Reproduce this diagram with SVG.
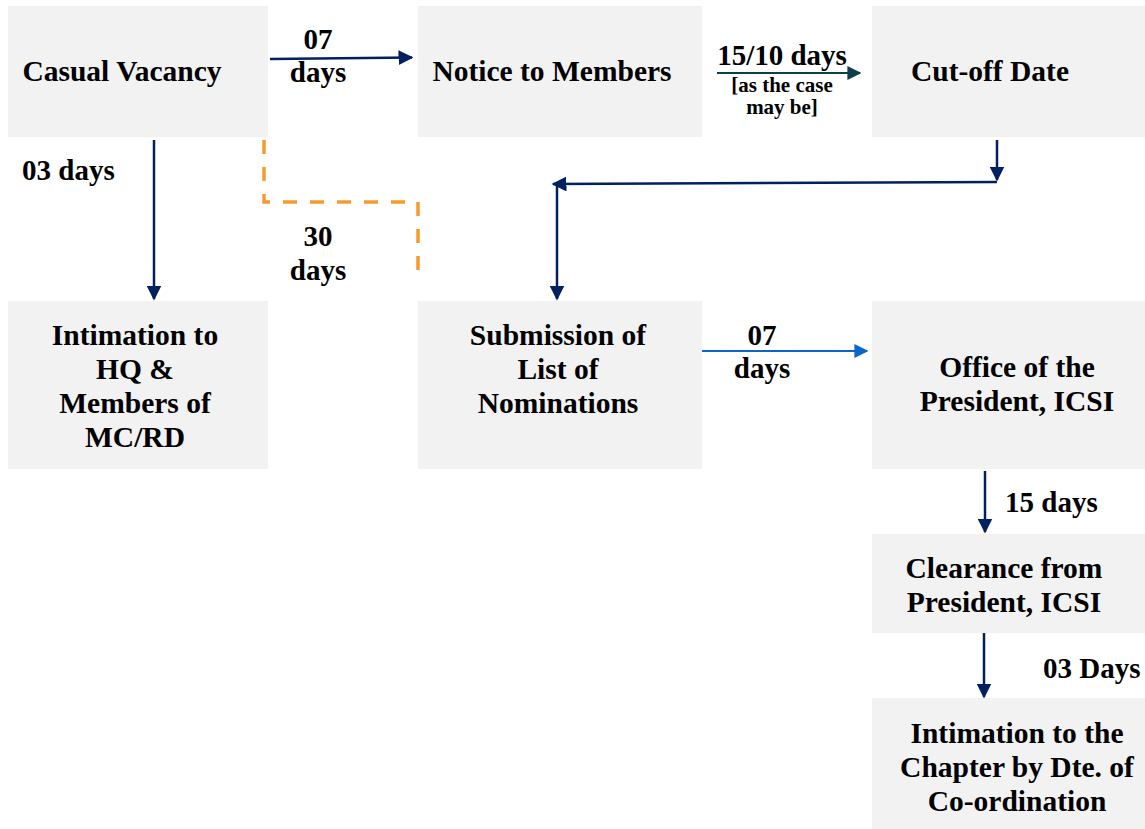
<svg xmlns="http://www.w3.org/2000/svg" width="1145" height="829" viewBox="0 0 1145 829">
<style>
.box{fill:#f2f2f2}
.t{font-family:'Liberation Serif',serif;font-weight:700;font-size:29.5px;fill:#000;text-anchor:middle}
.l{font-family:'Liberation Serif',serif;font-weight:700;font-size:29px;fill:#000}
.s{font-family:'Liberation Serif',serif;font-weight:700;font-size:21px;fill:#000;text-anchor:middle}
.c{fill:none}
</style>
<defs>
<marker id="an" viewBox="0 0 10 10" refX="9" refY="5" markerWidth="6" markerHeight="6" orient="auto"><path d="M0,0L10,5L0,10z" fill="#002060"/></marker>
<marker id="at" viewBox="0 0 10 10" refX="9" refY="5" markerWidth="7" markerHeight="7" orient="auto"><path d="M0,0L10,5L0,10z" fill="#0e3d4c"/></marker>
<marker id="ab" viewBox="0 0 10 10" refX="9" refY="5" markerWidth="7" markerHeight="7" orient="auto"><path d="M0,0L10,5L0,10z" fill="#0a66c8"/></marker>
</defs>
<g id="n1"><rect class="box" x="8" y="6" width="260" height="131"/><text class="t" x="122" y="81">Casual Vacancy</text></g>
<g id="n2"><rect class="box" x="418" y="6" width="284" height="131"/><text class="t" x="552" y="81">Notice to Members</text></g>
<g id="n3"><rect class="box" x="872" y="6" width="273" height="131"/><text class="t" x="990" y="81">Cut-off Date</text></g>
<g id="n4"><rect class="box" x="8" y="301" width="260" height="168"/><text class="t" x="135" y="345">Intimation to</text><text class="t" x="135" y="379">HQ &amp;</text><text class="t" x="135" y="413">Members of</text><text class="t" x="135" y="447">MC/RD</text></g>
<g id="n5"><rect class="box" x="418" y="301" width="284" height="168"/><text class="t" x="558" y="345">Submission of</text><text class="t" x="558" y="379">List of</text><text class="t" x="558" y="413">Nominations</text></g>
<g id="n6"><rect class="box" x="872" y="301" width="273" height="168"/><text class="t" x="1017" y="377">Office of the</text><text class="t" x="1017" y="411">President, ICSI</text></g>
<g id="n7"><rect class="box" x="872" y="534" width="273" height="99"/><text class="t" x="1004" y="578">Clearance from</text><text class="t" x="1004" y="612">President, ICSI</text></g>
<g id="n8"><rect class="box" x="872" y="698" width="273" height="131"/><text class="t" x="1017" y="743">Intimation to the</text><text class="t" x="1017" y="777">Chapter by Dte. of</text><text class="t" x="1017" y="811">Co-ordination</text></g>
<g id="connectors">
<path class="c" d="M270,59 L412,57.5" style="stroke:#002060;stroke-width:2.5" marker-end="url(#an)"/>
<path class="c" d="M717,73 L860,73" style="stroke:#0e3d4c;stroke-width:2" marker-end="url(#at)"/>
<path class="c" d="M997,140 L997,180" style="stroke:#002060;stroke-width:2.5" marker-end="url(#an)"/>
<path class="c" d="M997,182 L553,184" style="stroke:#002060;stroke-width:2.5" marker-end="url(#an)"/>
<path class="c" d="M557,184 L557,299" style="stroke:#002060;stroke-width:2.5" marker-end="url(#an)"/>
<path class="c" d="M154,140 L154,299" style="stroke:#002060;stroke-width:2.5" marker-end="url(#an)"/>
<path class="c" d="M264,140 L264,202 L418,202 L418,276" style="stroke:#f79a2e;stroke-width:3.5;stroke-dasharray:14,13"/>
<path class="c" d="M702,351 L867,351" style="stroke:#0a66c8;stroke-width:2" marker-end="url(#ab)"/>
<path class="c" d="M985,471 L985,532" style="stroke:#002060;stroke-width:2.5" marker-end="url(#an)"/>
<path class="c" d="M984,633 L984,697" style="stroke:#002060;stroke-width:2.5" marker-end="url(#an)"/>
</g>
<g id="labels">
<text class="l" x="318" y="49" text-anchor="middle">07</text>
<text class="l" x="318" y="82" text-anchor="middle">days</text>
<text class="l" x="782" y="65" text-anchor="middle">15/10 days</text>
<text class="s" x="782" y="92">[as the case</text>
<text class="s" x="782" y="114">may be]</text>
<text class="l" x="22" y="180">03 days</text>
<text class="l" x="318" y="246" text-anchor="middle">30</text>
<text class="l" x="318" y="280" text-anchor="middle">days</text>
<text class="l" x="762" y="345" text-anchor="middle">07</text>
<text class="l" x="762" y="378" text-anchor="middle">days</text>
<text class="l" x="1005" y="512">15 days</text>
<text class="l" x="1043" y="678">03 Days</text>
</g>
</svg>
